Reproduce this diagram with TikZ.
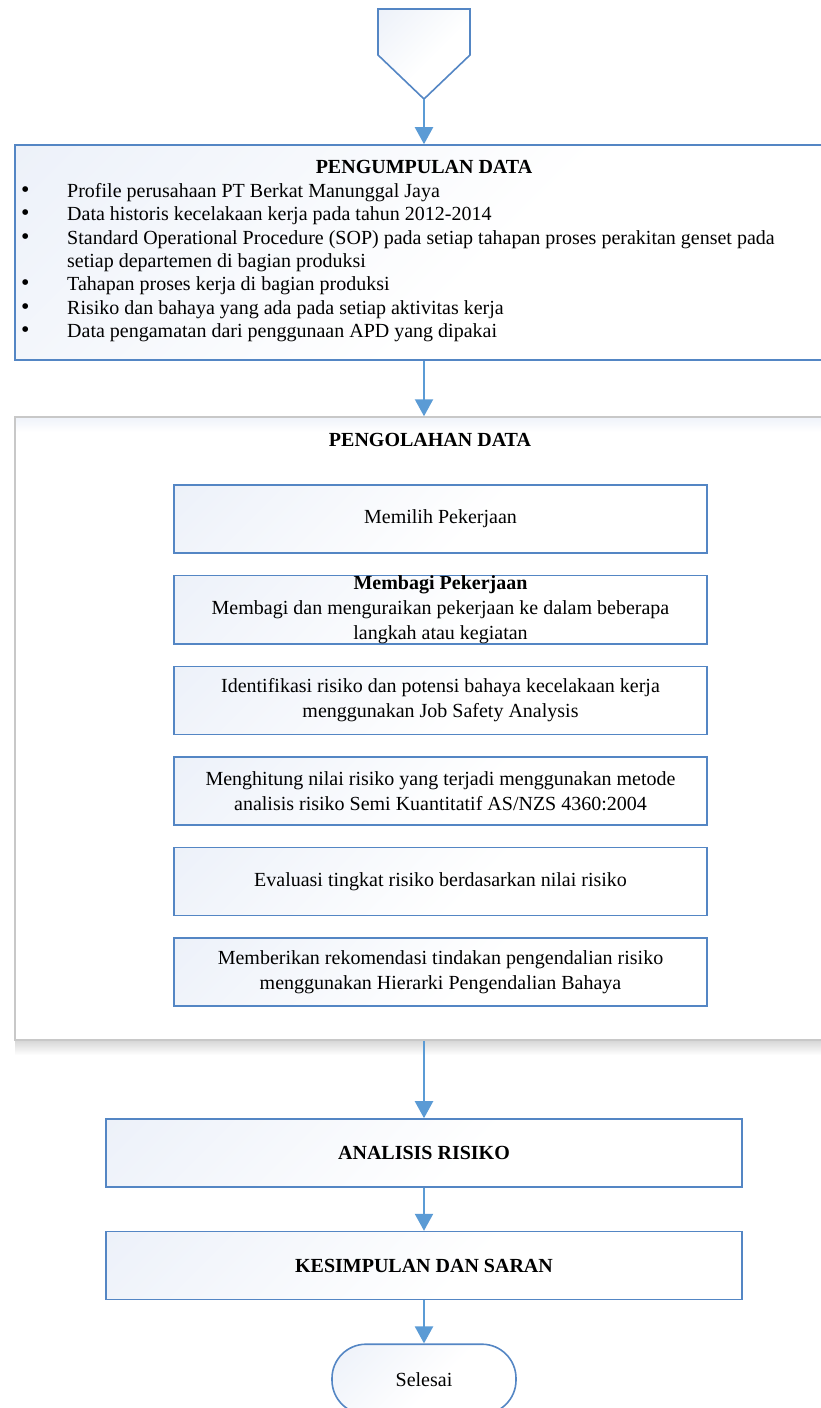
\documentclass[tikz,border=0pt]{standalone}
\usepackage{fontspec}
\setmainfont{Liberation Serif}
\usetikzlibrary{arrows.meta,positioning}
\definecolor{flowblue}{RGB}{91,155,213}
\definecolor{edgeblue}{RGB}{84,134,196}
\definecolor{fadeblue}{RGB}{230,236,247}
\definecolor{framegray}{RGB}{200,200,200}
\pgfdeclareverticalshading{boxfade}{100bp}{color(0bp)=(white); color(45bp)=(white); color(100bp)=(fadeblue)}
\newcommand{\itemdot}{\scalebox{1.2}{\textbullet}}

\begin{document}
\begin{tikzpicture}[x=1pt,y=-1pt,font=\fontsize{20}{25}\selectfont,
  flow/.style={draw=flowblue,line width=2.2pt,-{Triangle[length=17pt,width=18pt]}},
  block/.style={draw=edgeblue,line width=1.6pt,shade,shading=boxfade,shading angle=45,inner sep=0pt,align=center},
  task/.style={block,minimum width=533pt,minimum height=68pt},
  stage/.style={block,minimum width=636pt,minimum height=68pt,font=\fontsize{20}{25}\selectfont\bfseries},
  heading/.style={font=\fontsize{20}{25}\selectfont\bfseries}]
\clip (0,0) rectangle (821,1408);

% entry connector
\coordinate (entry) at (424,99);
\shadedraw[draw=edgeblue,line width=1.6pt,shading=boxfade,shading angle=45]
  (378,9) -- (470,9) -- (470,55) -- (entry) -- (378,55) -- cycle;

% data collection
\node[block,minimum width=818pt,minimum height=215pt] (collect) at (424,252.5) {};
\node[heading] (collecttitle) at (424,167) {PENGUMPULAN DATA};
\node[anchor=north west,inner sep=0pt,align=left,font=\fontsize{20}{23.3}\selectfont] (collectlist) at (21,181) {%
\begin{tabular}{@{}p{46pt}@{}l@{}}
\itemdot & Profile perusahaan PT Berkat Manunggal Jaya\\
\itemdot & Data historis kecelakaan kerja pada tahun 2012-2014\\
\itemdot & Standard Operational Procedure (SOP) pada setiap tahapan proses perakitan genset pada\\
 & setiap departemen di bagian produksi\\
\itemdot & Tahapan proses kerja di bagian produksi\\
\itemdot & Risiko dan bahaya yang ada pada setiap aktivitas kerja\\
\itemdot & Data pengamatan dari penggunaan APD yang dipakai
\end{tabular}};

% data processing
\shade[top color=framegray!70,bottom color=white] (15,1041) rectangle (845,1055);
\node[draw=framegray,line width=1.5pt,fill=white,minimum width=830pt,minimum height=623pt] (process) at (430,728.5) {};
\shade[top color=fadeblue!60,bottom color=white] (16,418) rectangle (845,432);
\node[heading] (processtitle) at (430,440) {PENGOLAHAN DATA};
\node[task] (choose) at (440.5,519) {Memilih Pekerjaan};
\node[task,below=21pt of choose] (split) {\textbf{Membagi Pekerjaan}\\Membagi dan menguraikan pekerjaan ke dalam beberapa\\langkah atau kegiatan};
\node[task,below=21pt of split] (identify) {Identifikasi risiko dan potensi bahaya kecelakaan kerja\\menggunakan Job Safety Analysis};
\node[task,below=21pt of identify] (score) {Menghitung nilai risiko yang terjadi menggunakan metode\\analisis risiko Semi Kuantitatif AS/NZS 4360:2004};
\node[task,below=21pt of score] (evaluate) {Evaluasi tingkat risiko berdasarkan nilai risiko};
\node[task,below=21pt of evaluate] (control) {Memberikan rekomendasi tindakan pengendalian risiko\\menggunakan Hierarki Pengendalian Bahaya};

% analysis and end
\node[stage] (analysis) at (424,1153) {ANALISIS RISIKO};
\node[stage,below=43pt of analysis] (conclude) {KESIMPULAN DAN SARAN};
\node[block,rounded corners=34pt,minimum width=184pt,minimum height=70pt,below=43pt of conclude] (finish) {Selesai};

\draw[flow] (entry) -- (collect.north);
\draw[flow] (collect.south) -- (collect.south |- process.north);
\draw[flow] (analysis.north |- process.south) -- (analysis.north);
\draw[flow] (analysis) -- (conclude);
\draw[flow] (conclude) -- (finish);
\end{tikzpicture}
\end{document}
